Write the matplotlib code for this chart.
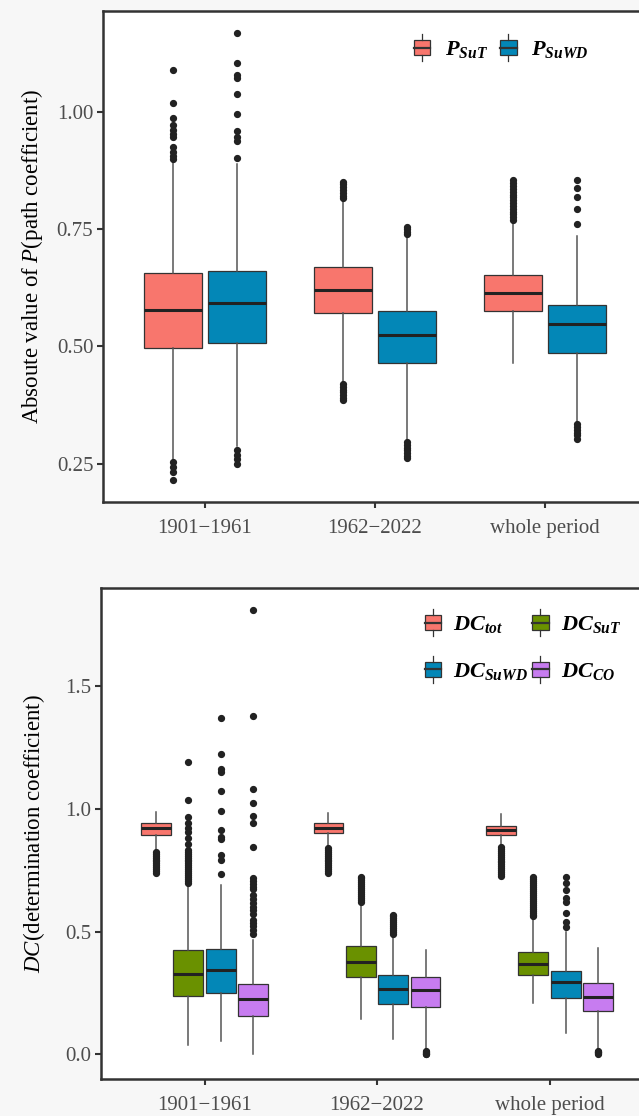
"""Boxplots of path coefficients (P) and determination coefficients (DC)
for the two sub-periods and the whole period."""

import matplotlib
matplotlib.use("Agg")
import matplotlib.pyplot as plt
from matplotlib.legend_handler import HandlerBase
from matplotlib.lines import Line2D
from matplotlib.patches import Rectangle, Patch
from matplotlib.ticker import FormatStrFormatter

# ── Style ────────────────────────────────────────────────────────────────
plt.rcParams.update({
    "font.family": "Liberation Serif",
    "font.size": 15,
    "mathtext.fontset": "custom",
    "mathtext.rm": "Liberation Serif",
    "mathtext.it": "Liberation Serif:italic",
    "mathtext.bf": "Liberation Serif:bold",
    "mathtext.bfit": "Liberation Serif:italic:bold",
})

FRAME = "#333333"
TICK_TXT = "#4d4d4d"
BG = "#f7f7f7"
RED = "#f8766d"
BLUE = "#0387b7"
GREEN = "#6a9100"
PURPLE = "#c77cf0"

# ── Data ─────────────────────────────────────────────────────────────────
PERIODS = ["1901\u22121961", "1962\u22122022", "whole period"]

# per period: [whisker low, q1, median, q3, whisker high]
P_SUT_STATS = [
    [0.260, 0.497, 0.577, 0.657, 0.897],
    [0.424, 0.571, 0.620, 0.669, 0.812],
    [0.465, 0.575, 0.613, 0.653, 0.766],
]
P_SUT_FLIERS = [
    [1.091, 1.019, 0.987, 0.972, 0.962, 0.954, 0.947, 0.926, 0.915, 0.906, 0.899,
     0.253, 0.242, 0.233, 0.214],
    [0.816, 0.822, 0.828, 0.834, 0.840, 0.846, 0.851,
     0.420, 0.414, 0.408, 0.402, 0.396, 0.390, 0.385],
    [0.770, 0.776, 0.782, 0.788, 0.794, 0.800, 0.806, 0.812, 0.818, 0.824,
     0.830, 0.836, 0.842, 0.848, 0.855],
]
P_SUWD_STATS = [
    [0.288, 0.507, 0.593, 0.662, 0.890],
    [0.301, 0.465, 0.524, 0.575, 0.737],
    [0.340, 0.487, 0.548, 0.589, 0.735],
]
P_SUWD_FLIERS = [
    [1.170, 1.105, 1.079, 1.072, 1.038, 0.996, 0.960, 0.947, 0.939, 0.903,
     0.278, 0.269, 0.260, 0.249],
    [0.741, 0.745, 0.750, 0.755,
     0.296, 0.290, 0.284, 0.278, 0.272, 0.267, 0.262],
    [0.855, 0.839, 0.819, 0.794, 0.761,
     0.334, 0.328, 0.322, 0.316, 0.310, 0.303],
]

DC_TOT_STATS = [
    [0.830, 0.894, 0.921, 0.944, 0.989],
    [0.850, 0.901, 0.923, 0.944, 0.985],
    [0.850, 0.894, 0.914, 0.932, 0.978],
]
DC_TOT_FLIERS = [
    [0.826, 0.818, 0.810, 0.802, 0.794, 0.786, 0.778, 0.770, 0.762, 0.754, 0.746, 0.738],
    [0.842, 0.834, 0.826, 0.818, 0.810, 0.802, 0.794, 0.786, 0.778, 0.770, 0.762,
     0.754, 0.746, 0.740],
    [0.846, 0.838, 0.830, 0.822, 0.814, 0.806, 0.798, 0.790, 0.782, 0.774, 0.766,
     0.758, 0.750, 0.742, 0.734, 0.726],
]
DC_SUT_STATS = [
    [0.039, 0.238, 0.328, 0.426, 0.690],
    [0.143, 0.317, 0.377, 0.443, 0.616],
    [0.208, 0.324, 0.369, 0.419, 0.555],
]
DC_SUT_FLIERS = [
    [0.698, 0.706, 0.714, 0.722, 0.730, 0.738, 0.746, 0.754, 0.762, 0.770, 0.778,
     0.786, 0.794, 0.802, 0.810, 0.818, 0.826, 0.834,
     0.857, 0.881, 0.907, 0.921, 0.942, 0.969, 1.037, 1.190],
    [0.622, 0.630, 0.638, 0.646, 0.654, 0.662, 0.670, 0.678, 0.686, 0.694,
     0.702, 0.710, 0.718, 0.724],
    [0.562, 0.570, 0.578, 0.586, 0.594, 0.602, 0.610, 0.618, 0.626, 0.634,
     0.642, 0.650, 0.658, 0.666, 0.674, 0.682, 0.690, 0.698, 0.706, 0.714, 0.722],
]
DC_SUWD_STATS = [
    [0.055, 0.249, 0.344, 0.431, 0.690],
    [0.062, 0.206, 0.266, 0.324, 0.487],
    [0.086, 0.229, 0.294, 0.340, 0.500],
]
DC_SUWD_FLIERS = [
    [0.734, 0.792, 0.813, 0.877, 0.887, 0.914, 0.992, 1.075, 1.152, 1.162,
     1.223, 1.372],
    [0.492, 0.500, 0.508, 0.516, 0.524, 0.532, 0.540, 0.548, 0.556, 0.562, 0.568],
    [0.521, 0.541, 0.575, 0.622, 0.636, 0.670, 0.697, 0.724],
]
DC_CO_STATS = [
    [0.000, 0.157, 0.226, 0.287, 0.466],
    [0.020, 0.192, 0.263, 0.314, 0.426],
    [0.020, 0.178, 0.235, 0.290, 0.433],
]
DC_CO_FLIERS = [
    [0.491, 0.505, 0.523, 0.535, 0.548, 0.572, 0.587, 0.602, 0.615, 0.632, 0.650,
     0.673, 0.682, 0.694, 0.706, 0.718, 0.844, 0.942, 0.971, 1.023, 1.080,
     1.379, 1.810],
    [0.015, 0.011, 0.007, 0.003, 0.000],
    [0.016, 0.012, 0.008, 0.004, 0.000],
]


class BoxKey(HandlerBase):
    """Legend key drawn as a tiny boxplot (like ggplot's box glyph)."""

    def create_artists(self, legend, orig_handle, xdescent, ydescent,
                       width, height, fontsize, trans):
        x0, y0 = -xdescent, -ydescent
        cx = x0 + width / 2
        rect = Rectangle((x0 + 0.06 * width, y0 + 0.18 * height),
                         0.88 * width, 0.64 * height,
                         facecolor=orig_handle.get_facecolor(),
                         edgecolor=FRAME, lw=0.9, transform=trans)
        med = Line2D([x0 + 0.06 * width, x0 + 0.94 * width],
                     [y0 + height / 2] * 2, color=FRAME, lw=1.6, transform=trans)
        w1 = Line2D([cx, cx], [y0 - 0.05 * height, y0 + 0.18 * height],
                    color=FRAME, lw=0.9, transform=trans)
        w2 = Line2D([cx, cx], [y0 + 0.82 * height, y0 + 1.05 * height],
                    color=FRAME, lw=0.9, transform=trans)
        return [rect, med, w1, w2]


def _bxp_stats(stats, fliers):
    out = []
    for (lo, q1, med, q3, hi), fl in zip(stats, fliers):
        out.append({"whislo": lo, "q1": q1, "med": med, "q3": q3,
                    "whishi": hi, "fliers": fl})
    return out


def _draw_boxes(ax, series, offsets, width):
    for (stats, fliers, color), off in zip(series, offsets):
        ax.bxp(
            _bxp_stats(stats, fliers),
            positions=[i + 1 + off for i in range(len(PERIODS))],
            widths=width,
            patch_artist=True,
            showcaps=False,
            boxprops=dict(facecolor=color, edgecolor=FRAME, lw=0.9),
            medianprops=dict(color="#222222", lw=2.2),
            whiskerprops=dict(color="#555555", lw=1.1),
            flierprops=dict(marker="o", markersize=4.2, markerfacecolor="#222222",
                            markeredgecolor="#222222", lw=0),
            zorder=3,
        )


def _style_axes(ax):
    for sp in ax.spines.values():
        sp.set_linewidth(1.8)
        sp.set_color(FRAME)
    ax.set_facecolor("white")
    ax.tick_params(direction="out", length=4, width=1.5, color=FRAME,
                   labelcolor=TICK_TXT, labelsize=15)
    ax.tick_params(axis="x", pad=8)
    ax.tick_params(axis="y", pad=3)
    ax.set_xlim(0.4, 3.6)
    ax.set_xticks([1, 2, 3])
    ax.set_xticklabels(PERIODS)


fig = plt.figure(figsize=(6.39, 11.16), dpi=100, facecolor=BG)

# top panel: path coefficients (axes run past the right edge, as cropped)
ax1 = fig.add_axes([103 / 639, 1 - 502 / 1116, 544 / 639, 491.5 / 1116])
_draw_boxes(ax1,
            [(P_SUT_STATS, P_SUT_FLIERS, RED), (P_SUWD_STATS, P_SUWD_FLIERS, BLUE)],
            offsets=[-0.1875, 0.1875], width=0.34)
_style_axes(ax1)
ax1.set_ylim(0.168, 1.217)
ax1.set_yticks([0.25, 0.50, 0.75, 1.00])
ax1.yaxis.set_major_formatter(FormatStrFormatter("%.2f"))
ax1.set_ylabel("Absoute value of $P$(path coefficient)", fontsize=16.5)
ax1.yaxis.set_label_coords(-0.106, 0.5)
ax1.legend(
    [Patch(facecolor=RED), Patch(facecolor=BLUE)],
    [r"$\mathbfit{P}_{\mathbfit{SuT}}$", r"$\mathbfit{P}_{\mathbfit{SuWD}}$"],
    handler_map={Patch: BoxKey()}, ncol=2, frameon=False, fontsize=16,
    loc="upper left", bbox_to_anchor=(0.532, 0.99),
    handlelength=0.85, handleheight=1.3, handletextpad=0.6, columnspacing=0.5,
)

# bottom panel: determination coefficients
ax2 = fig.add_axes([101 / 639, 1 - 1079 / 1116, 552 / 639, 491 / 1116])
_draw_boxes(ax2,
            [(DC_TOT_STATS, DC_TOT_FLIERS, RED), (DC_SUT_STATS, DC_SUT_FLIERS, GREEN),
             (DC_SUWD_STATS, DC_SUWD_FLIERS, BLUE), (DC_CO_STATS, DC_CO_FLIERS, PURPLE)],
            offsets=[-0.28125, -0.09375, 0.09375, 0.28125], width=0.173)
_style_axes(ax2)
ax2.set_ylim(-0.10, 1.90)
ax2.set_yticks([0.0, 0.5, 1.0, 1.5])
ax2.yaxis.set_major_formatter(FormatStrFormatter("%.1f"))
ax2.set_ylabel("$DC$(determination coefficient)", fontsize=16.5)
ax2.yaxis.set_label_coords(-0.0985, 0.5)
# ncol=2 fills column-wise: (tot, SuWD) then (SuT, CO)
ax2.legend(
    [Patch(facecolor=RED), Patch(facecolor=BLUE), Patch(facecolor=GREEN),
     Patch(facecolor=PURPLE)],
    [r"$\mathbfit{DC}_{\mathbfit{tot}}$", r"$\mathbfit{DC}_{\mathbfit{SuWD}}$",
     r"$\mathbfit{DC}_{\mathbfit{SuT}}$", r"$\mathbfit{DC}_{\mathbfit{CO}}$"],
    handler_map={Patch: BoxKey()}, ncol=2, frameon=False, fontsize=16,
    loc="upper left", bbox_to_anchor=(0.548, 0.995),
    handlelength=0.85, handleheight=1.3, handletextpad=0.5, columnspacing=0.1,
    labelspacing=1.0,
)

fig.savefig("out.png", dpi=100, facecolor=fig.get_facecolor())
plt.close(fig)
